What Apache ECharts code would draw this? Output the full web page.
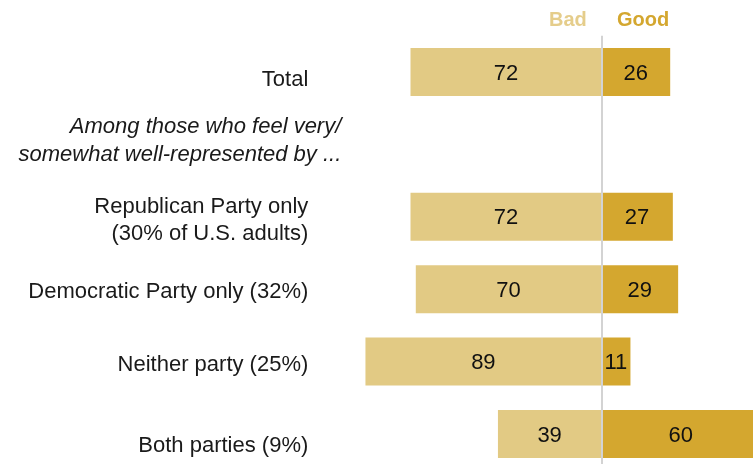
<!DOCTYPE html>
<html>
<head>
<meta charset="utf-8">
<script src="https://cdn.jsdelivr.net/npm/echarts@6/dist/echarts.min.js"></script>
<style>html,body{margin:0;padding:0;background:#fff}#c{width:753px;height:464px}</style>
</head>
<body>
<div id="c"></div>
<script>
const categories = ["Total", "HEADER", "Republican Party only\n(30% of U.S. adults)", "Democratic Party only (32%)", "Neither party (25%)", "Both parties (9%)"];
const headerText = "Among those who feel very/\nsomewhat well-represented by ...";
const badValues = [72, null, 72, 70, 89, 39];
const goodValues = [26, null, 27, 29, 11, 60];
const legendNames = ["Bad", "Good"];

// styling: vertical nudge (spacer line height, px) for each row label
const labelSpacer = [15, 0, 7, 6, 6, 23];

const BAD = "#e2ca84", GOOD = "#d4a72f";
const FONT = "Liberation Sans";

const rich = {t: {fontSize: 22, lineHeight: 27, fontFamily: FONT, color: '#1a1a1a', align: 'right'}};
labelSpacer.forEach((h, i) => { rich['s' + i] = {fontSize: 1, lineHeight: h}; });
const headRich = {
  h: {fontSize: 22, lineHeight: 28, fontFamily: FONT, fontStyle: 'italic', color: '#1a1a1a', align: 'right'},
  b: {fontSize: 1, lineHeight: 7}
};

const chart = echarts.init(document.getElementById('c'), null, {renderer: 'canvas'});
chart.setOption({
  animation: false,
  backgroundColor: '#fff',
  grid: {left: 336.3, right: 0, top: 35.8, height: 434.4, outerBoundsMode: 'none', containLabel: false},
  xAxis: {type: 'value', min: -100, max: 57.25, show: false},
  yAxis: [{
    type: 'category', inverse: true, position: 'left', data: categories,
    axisLine: {show: false}, axisTick: {show: false}, splitLine: {show: false},
    axisLabel: {
      margin: 28, color: '#1a1a1a', fontFamily: FONT, fontSize: 22, align: 'right',
      formatter: (v, i) => v === 'HEADER' ? '' :
        '{s' + i + '| }\n' + v.split('\n').map(l => '{t|' + l + '}').join('\n'),
      rich: rich
    }
  }, {
    type: 'category', data: categories, inverse: true, position: 'left',
    axisLine: {show: false}, axisTick: {show: false}, splitLine: {show: false},
    axisLabel: {
      margin: -5, color: '#1a1a1a', fontFamily: FONT, fontSize: 22, fontStyle: 'italic', align: 'right',
      formatter: v => v === 'HEADER' ? headerText.split('\n').map(l => '{h|' + l + '}').join('\n') + '\n{b| }' : '',
      rich: headRich
    }
  }],
  series: [{
    name: legendNames[0], type: 'bar', stack: 's', barWidth: 48, clip: false,
    data: badValues.map(v => v == null ? '-' : -v),
    itemStyle: {color: BAD},
    label: {show: true, position: 'inside', offset: [0, 1.5], color: '#111', fontFamily: FONT, fontSize: 22, formatter: p => Math.abs(p.value)},
    markLine: {
      silent: true, symbol: 'none', label: {show: false},
      lineStyle: {color: '#d3d3d3', width: 2, type: 'solid'},
      data: [{xAxis: 0}]
    },
    z: 2
  }, {
    name: legendNames[1], type: 'bar', stack: 's2', barWidth: 48, barGap: '-100%', clip: false,
    data: goodValues.map(v => v == null ? '-' : v),
    itemStyle: {color: GOOD},
    label: {show: true, position: 'inside', offset: [0, 1.5], color: '#111', fontFamily: FONT, fontSize: 22},
    z: 2
  }],
  title: [{
    text: legendNames[0], left: 544, top: 5,
    textStyle: {color: '#e5cd8b', fontFamily: FONT, fontWeight: 'bold', fontSize: 20}
  }, {
    text: legendNames[1], left: 612, top: 5,
    textStyle: {color: GOOD, fontFamily: FONT, fontWeight: 'bold', fontSize: 20}
  }]
});
</script>
</body>
</html>
